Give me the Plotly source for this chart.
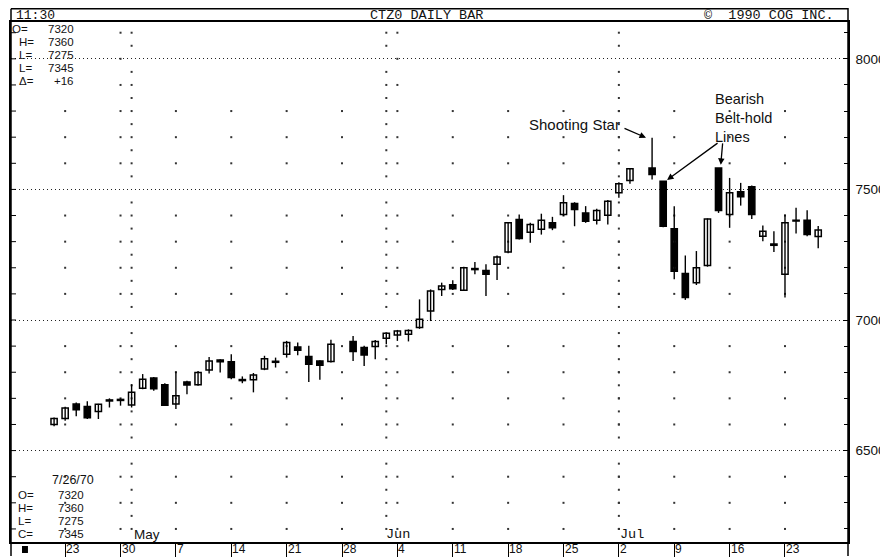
import numpy as np
import plotly.graph_objects as go

# ---------------- data ----------------
dates = [
    "1990-04-20",
    "1990-04-23", "1990-04-24", "1990-04-25", "1990-04-26", "1990-04-27",
    "1990-04-30", "1990-05-01", "1990-05-02", "1990-05-03", "1990-05-04",
    "1990-05-07", "1990-05-08", "1990-05-09", "1990-05-10", "1990-05-11",
    "1990-05-14", "1990-05-15", "1990-05-16", "1990-05-17", "1990-05-18",
    "1990-05-21", "1990-05-22", "1990-05-23", "1990-05-24", "1990-05-25",
    "1990-05-29", "1990-05-30", "1990-05-31", "1990-06-01",
    "1990-06-04", "1990-06-05", "1990-06-06", "1990-06-07", "1990-06-08",
    "1990-06-11", "1990-06-12", "1990-06-13", "1990-06-14", "1990-06-15",
    "1990-06-18", "1990-06-19", "1990-06-20", "1990-06-21", "1990-06-22",
    "1990-06-25", "1990-06-26", "1990-06-27", "1990-06-28", "1990-06-29",
    "1990-07-02", "1990-07-03", "1990-07-05", "1990-07-06",
    "1990-07-09", "1990-07-10", "1990-07-11", "1990-07-12", "1990-07-13",
    "1990-07-16", "1990-07-17", "1990-07-18", "1990-07-19", "1990-07-20",
    "1990-07-23", "1990-07-24", "1990-07-25", "1990-07-26",
]
opens = [6600, 6623, 6678, 6669, 6650, 6690, 6692, 6675, 6739, 6778,
         6752, 6678, 6763, 6752, 6809, 6847, 6840, 6772, 6771, 6812,
         6838, 6869, 6897, 6860, 6843, 6841, 6918, 6895, 6899, 6930,
         6943, 6945, 6971, 7034, 7117, 7135, 7114, 7197, 7190, 7213,
         7260, 7385, 7336, 7347, 7372, 7404, 7446, 7410, 7382, 7401,
         7487, 7534, 7582, 7531, 7349, 7178, 7143, 7209, 7582, 7404,
         7491, 7510, 7321, 7291, 7175, 7382, 7382, 7320]
highs = [6627, 6668, 6684, 6689, 6679, 6700, 6700, 6754, 6793, 6782,
         6758, 6803, 6767, 6805, 6858, 6850, 6869, 6784, 6797, 6863,
         6856, 6920, 6914, 6901, 6846, 6924, 6939, 6901, 6923, 6951,
         6962, 6964, 7079, 7117, 7143, 7152, 7204, 7222, 7213, 7247,
         7375, 7404, 7372, 7407, 7395, 7478, 7451, 7436, 7426, 7459,
         7527, 7582, 7698, 7531, 7436, 7247, 7264, 7389, 7582, 7544,
         7525, 7515, 7362, 7340, 7404, 7430, 7420, 7360]
lows = [6593, 6614, 6631, 6621, 6621, 6665, 6672, 6665, 6735, 6729,
        6672, 6659, 6716, 6748, 6795, 6799, 6773, 6758, 6723, 6808,
        6818, 6856, 6865, 6763, 6771, 6837, 6843, 6824, 6850, 6907,
        6920, 6918, 6966, 6996, 7092, 7115, 7111, 7175, 7092, 7153,
        7256, 7308, 7296, 7327, 7344, 7398, 7359, 7372, 7366, 7366,
        7468, 7522, 7538, 7355, 7156, 7077, 7134, 7204, 7410, 7353,
        7438, 7387, 7302, 7260, 7086, 7331, 7321, 7275]
closes = [6623, 6663, 6656, 6626, 6677, 6694, 6696, 6723, 6773, 6737,
          6674, 6710, 6751, 6799, 6843, 6840, 6780, 6768, 6789, 6852,
          6842, 6914, 6884, 6831, 6827, 6907, 6879, 6866, 6918, 6949,
          6958, 6960, 7003, 7111, 7130, 7120, 7200, 7193, 7175, 7241,
          7372, 7312, 7366, 7382, 7353, 7449, 7423, 7378, 7419, 7455,
          7522, 7579, 7557, 7359, 7187, 7086, 7200, 7387, 7419, 7487,
          7472, 7404, 7340, 7286, 7372, 7379, 7327, 7345]

week_dates = ["1990-04-23", "1990-04-30", "1990-05-07", "1990-05-14",
              "1990-05-21", "1990-05-28", "1990-06-04", "1990-06-11",
              "1990-06-18", "1990-06-25", "1990-07-02", "1990-07-09",
              "1990-07-16", "1990-07-23"]
week_labels = ["23", "30", "7", "14", "21", "28", "4", "11", "18", "25",
               "2", "9", "16", "23"]
month_dates = ["1990-05-01", "1990-06-01", "1990-07-02"]
month_labels = ["May", "Jun", "Jul"]
price_ticks = [6500, 7000, 7500, 8000]
price_labels = ["6500", "7000", "7500", "8000"]

shooting_star_date = "1990-07-05"
belt_hold_dates = ["1990-07-06", "1990-07-13"]

top_info = [("O=", "7320"), ("H=", "7360"), ("L=", "7275"),
            ("L=", "7345"), ("\u0394=", "+16")]
bottom_date = "7/26/70"
bottom_info = [("O=", "7320"), ("H=", "7360"), ("L=", "7275"), ("C=", "7345")]

# ---------------- helpers ----------------
start = np.datetime64("1990-04-20")


def day_index(d):
    return int(np.busday_count(start, np.datetime64(d)))


# the page body has an 8px margin, so the figure sits at (8, 8) in the window
OFF = 8
W, H = 888 - OFF, 557 - OFF
ML, MR, MT, MB = 1, 40, 14, 14
PW, PH = W - ML - MR, H - MT - MB


def PX(x):  # window pixel -> paper
    return (x - OFF - ML) / PW


def PY(y):  # window pixel -> paper
    return (H - MB - (y - OFF)) / PH


xs = [day_index(d) for d in dates]
ymin, ymax = 6150, 8141
xmin, xmax = -3.89, 71.69

SANS = "Liberation Sans, Arial, sans-serif"
MONO = "Liberation Mono, Courier New, monospace"

fig = go.Figure()

# ---- sparse grid dots ----
gx, gy = [], []
for d in week_dates:
    xi = day_index(d)
    for v in range(6200, 7801, 100):
        if v % 500:
            gx.append(xi)
            gy.append(v)
for d in ["1990-04-30", "1990-06-04"]:
    xi = day_index(d)
    for v in range(7900, 8101, 100):
        gx.append(xi)
        gy.append(v)
for d in month_dates:
    xi = day_index(d)
    for v in range(6200, 8101, 50):
        if v % 500:
            gx.append(xi)
            gy.append(v)
fig.add_trace(go.Scatter(x=gx, y=gy, mode="markers",
                         marker=dict(size=2, color="#333", symbol="square"),
                         hoverinfo="skip"))

# ---- wicks ----
wx, wy = [], []
for xi, lo, hi in zip(xs, lows, highs):
    wx += [xi, xi, None]
    wy += [lo, hi, None]
fig.add_trace(go.Scatter(x=wx, y=wy, mode="lines",
                         line=dict(color="black", width=1.4),
                         hoverinfo="skip"))

# ---- bodies ----
for up in (True, False):
    bx, bb, bh = [], [], []
    for xi, o, c in zip(xs, opens, closes):
        if (c >= o) == up:
            bx.append(xi)
            bb.append(min(o, c))
            bh.append(max(abs(c - o), 2))
    fig.add_trace(go.Bar(
        x=bx, y=bh, base=bb, width=0.56,
        marker=dict(color="white" if up else "black",
                    line=dict(color="black", width=1.5)),
        hoverinfo="skip"))

# ---------------- layout ----------------
week_x = [day_index(d) for d in week_dates]
fig.update_layout(
    width=W, height=H,
    margin=dict(l=ML, r=MR, t=MT, b=MB),
    paper_bgcolor="white", plot_bgcolor="white",
    showlegend=False, barmode="overlay",
    xaxis=dict(range=[xmin, xmax], tickmode="array", tickvals=week_x,
               ticks="outside", ticklen=14, tickwidth=1, tickcolor="black",
               showticklabels=False, showgrid=False, zeroline=False,
               showline=True, linecolor="black", linewidth=1.5, mirror=True),
    yaxis=dict(range=[ymin, ymax], side="right", tickmode="array",
               tickvals=price_ticks, ticktext=price_labels,
               ticks="inside", ticklen=5, tickcolor="black",
               tickfont=dict(family=SANS, size=13.5, color="#111"),
               ticklabelstandoff=3,
               showgrid=True, gridcolor="#222", gridwidth=1,
               griddash="1px,3px",
               zeroline=False, showline=True, linecolor="black",
               linewidth=1.5, mirror=True,
               minor=dict(dtick=100, tick0=0, ticks="inside", ticklen=4,
                          tickcolor="black", showgrid=False)),
)

shapes = []
# frame extensions and header box
shapes.append(dict(type="line", xref="paper", yref="paper", x0=1, x1=1,
                   y0=PY(557), y1=PY(8), line=dict(color="black", width=1.5)))
shapes.append(dict(type="line", xref="paper", yref="paper", x0=0, x1=0,
                   y0=PY(557), y1=PY(8.8), line=dict(color="black", width=1.5)))
shapes.append(dict(type="line", xref="paper", yref="paper", x0=0, x1=1,
                   y0=PY(8.8), y1=PY(8.8), line=dict(color="black", width=1.5)))
# left axis small ticks
for v in range(6200, 8101, 100):
    shapes.append(dict(type="line", xref="paper", yref="y", x0=0,
                       x1=PX(14), y0=v, y1=v,
                       line=dict(color="black", width=1)))
# black square bottom-left
shapes.append(dict(type="rect", xref="paper", yref="paper",
                   x0=PX(20), x1=PX(26), y0=PY(554), y1=PY(547),
                   fillcolor="black", line=dict(width=0)))
fig.update_layout(shapes=shapes)

ann = []


def text(x, y, s, size=13, family=SANS, xanchor="left", yanchor="middle",
         xref="paper", yref="paper", **kw):
    ann.append(dict(x=x, y=y, xref=xref, yref=yref, text=s, showarrow=False,
                    xanchor=xanchor, yanchor=yanchor,
                    font=dict(family=family, size=size, color="#111"), **kw))


# header
text(PX(12), PY(15.5), "11:30", size=13, family=MONO)
text(PX(425), PY(15.5), "CTZ0 DAILY BAR", size=13.5, family=MONO,
     xanchor="center")
text(PX(836), PY(15.5), "\u00a9  1990 COG INC.", size=13.5, family=MONO,
     xanchor="right")

# top-left info block
for i, (lab, val) in enumerate(top_info):
    yy = 29 + i * 13
    text(PX(9 if i == 0 else 16), PY(yy), lab, size=11.5, borderpad=0)
    text(PX(73), PY(yy), val, size=11.5, xanchor="right", borderpad=0)

# bottom-left info block
text(PX(93), PY(481), bottom_date, size=12.5, xanchor="right", borderpad=0)
for i, (lab, val) in enumerate(bottom_info):
    yy = 496 + i * 13
    text(PX(15), PY(yy), lab, size=11.5, borderpad=0)
    text(PX(83), PY(yy), val, size=11.5, xanchor="right", borderpad=0)

# week labels below the axis
for d, lab in zip(week_dates, week_labels):
    text(day_index(d), PY(550), lab, size=12, xref="x", xshift=0,
         borderpad=0)

# month labels
for d, lab, sh in zip(month_dates, month_labels, [1, -1, 0]):
    text(day_index(d), PY(535), lab, size=13.5,
         family=SANS if lab == "May" else MONO, xref="x", xshift=sh,
         borderpad=0)

# pattern annotations
ss_i = dates.index(shooting_star_date)
ss_x, ss_h = xs[ss_i], highs[ss_i]
text(ss_x, ss_h, "Shooting Star", size=15, xanchor="right", xref="x",
     yref="y", xshift=-30, yshift=13)
ann.append(dict(x=ss_x - 0.55, y=ss_h, xref="x", yref="y", text="",
                showarrow=True, arrowhead=2, arrowsize=1, arrowwidth=1.3,
                arrowcolor="black", ax=-23, ay=-10))

b1 = dates.index(belt_hold_dates[0])
b2 = dates.index(belt_hold_dates[1])
text(xs[b2], highs[b2], "Bearish<br>Belt-hold<br>Lines", size=14.5,
     xanchor="left", yanchor="top", xref="x", yref="y", xshift=-6,
     yshift=79, align="left")
ann.append(dict(x=xs[b1] + 0.35, y=highs[b1] + 5, xref="x", yref="y",
                text="", showarrow=True, arrowhead=2, arrowsize=1,
                arrowwidth=1.3, arrowcolor="black", ax=52, ay=-38))
ann.append(dict(x=xs[b2] + 0.2, y=highs[b2] + 12, xref="x", yref="y",
                text="", showarrow=True, arrowhead=2, arrowsize=1,
                arrowwidth=1.3, arrowcolor="black", ax=2, ay=-23))

fig.update_layout(annotations=ann)
fig.write_html("out.html")
